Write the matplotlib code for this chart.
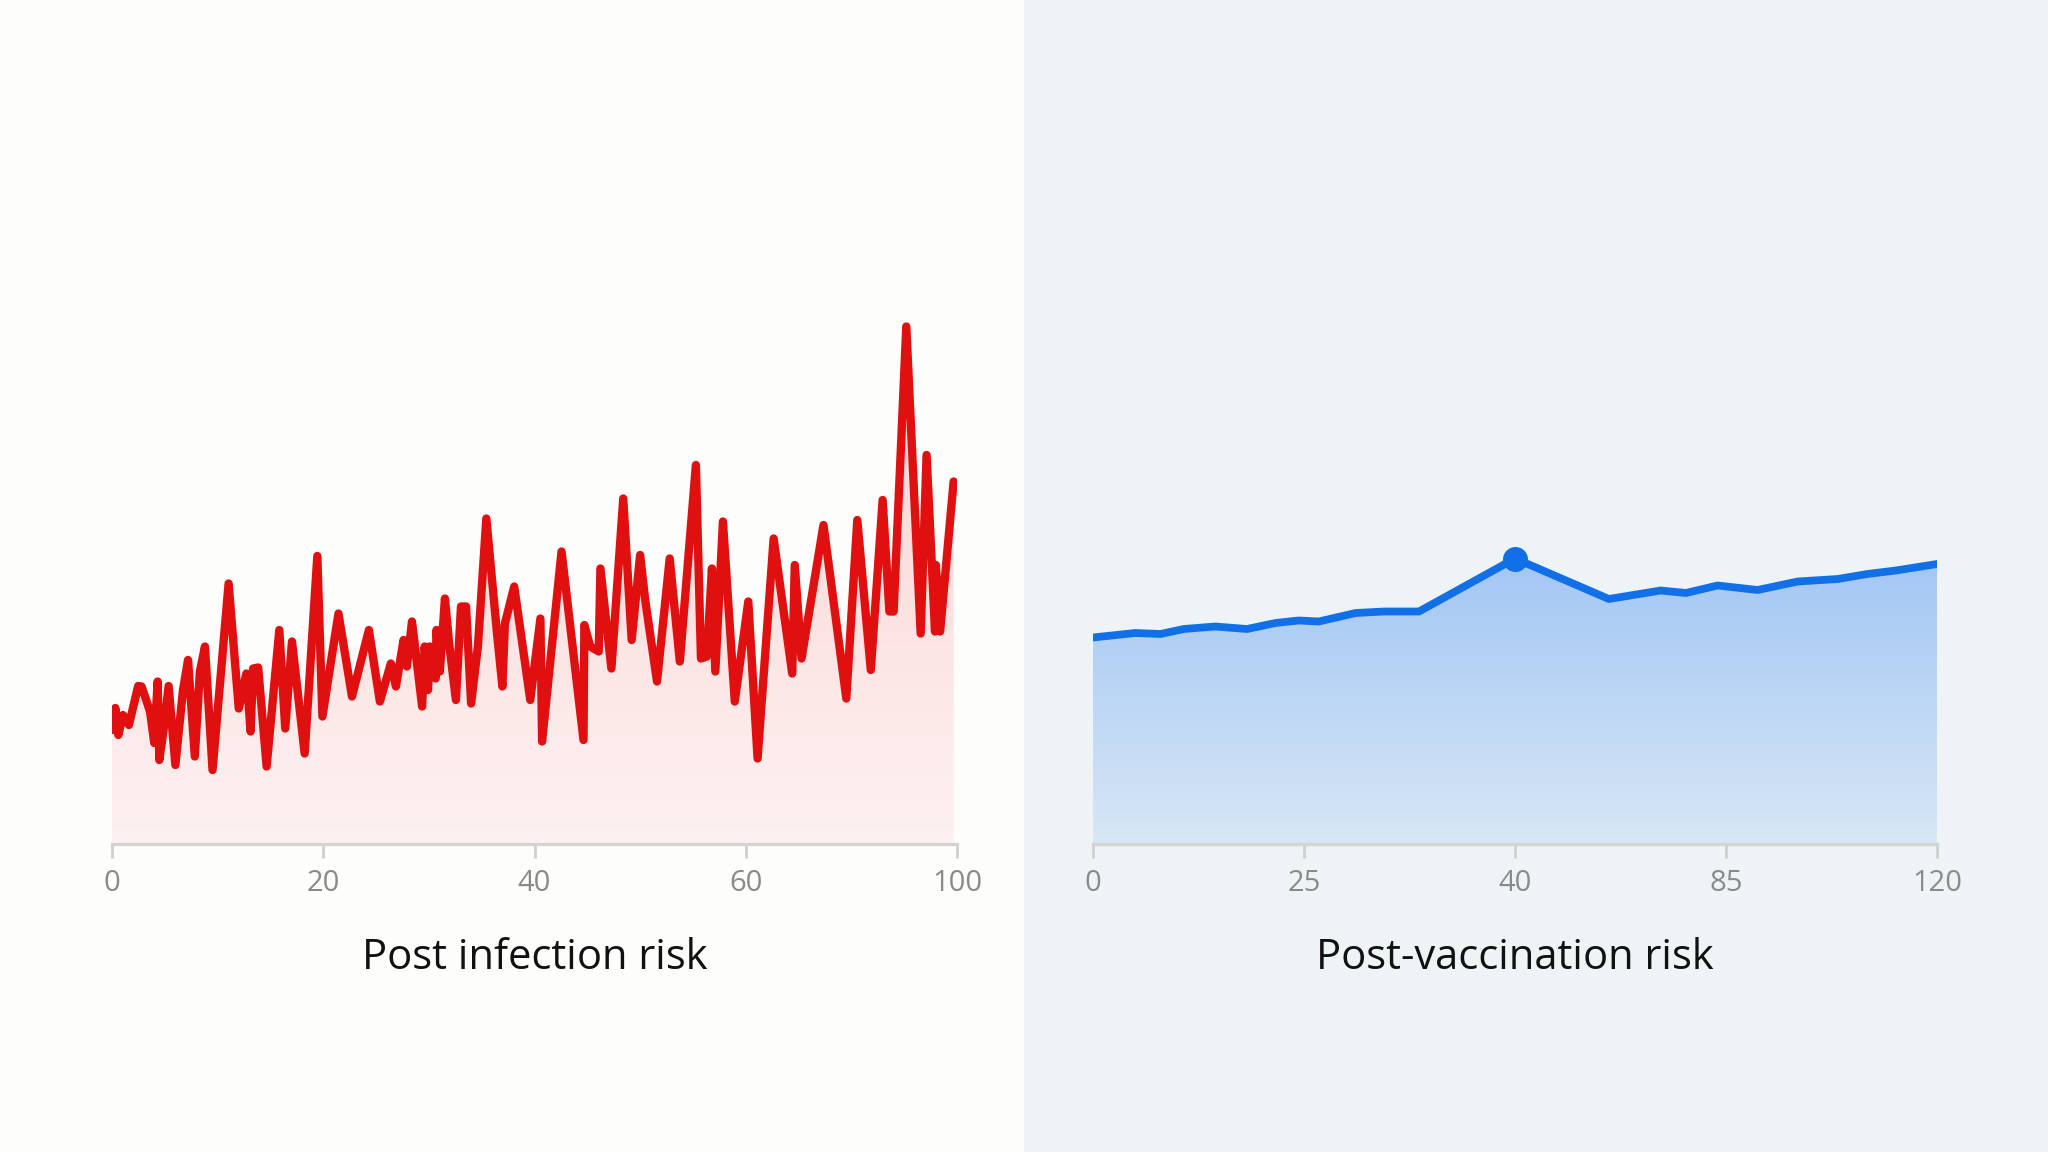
import numpy as np
import matplotlib.pyplot as plt
from matplotlib.patches import Rectangle

# left panel: post infection risk (x 0-100, arbitrary risk units)
inf_x = [0.0, 0.4, 0.75, 1.3, 2.0, 3.1, 3.5, 4.5, 5.0, 5.4, 5.6, 6.1, 6.7, 7.5, 8.4, 9.0, 9.8,
         10.4, 11.0, 11.9, 13.8, 15.0, 15.9, 16.4, 16.7, 17.3, 18.3, 19.8, 20.5, 21.3, 22.8,
         24.3, 24.9, 26.8, 28.4, 30.4, 31.7, 33.0, 33.6, 34.5, 34.9, 35.5, 36.7, 37.0, 37.4,
         37.6, 38.3, 38.4, 38.8, 39.4, 39.9, 40.7, 41.3, 41.9, 42.5, 43.3, 44.3, 45.6, 46.2,
         46.5, 47.6, 49.5, 50.7, 50.9, 53.2, 55.8, 55.9, 56.6, 57.6, 57.8, 59.1, 60.5, 61.5,
         62.5, 63.1, 64.5, 66.0, 67.2, 69.1, 69.7, 70.4, 71.0, 71.4, 72.3, 73.7, 75.3, 76.4,
         78.3, 80.5, 80.8, 81.6, 84.2, 86.9, 88.2, 89.8, 91.2, 92.0, 92.5, 94.0, 95.7, 96.4,
         97.4, 97.5, 98.0, 99.6]
inf_y = [22.8, 27.2, 21.8, 25.8, 23.8, 31.6, 31.5, 26.5, 20.2, 32.5, 16.8, 22.8, 31.6, 15.8,
         30.8, 36.8, 17.5, 34.5, 39.5, 14.8, 52.1, 27.1, 34.1, 22.5, 35.1, 35.3, 15.5, 42.8,
         23.1, 40.5, 18.1, 57.6, 25.5, 46.1, 29.5, 42.8, 28.5, 36.1, 31.5, 40.8, 35.5, 44.5,
         27.5, 39.5, 30.8, 39.5, 33.1, 42.8, 34.5, 49.1, 40.1, 28.8, 47.5, 47.5, 28.1, 39.5,
         65.1, 41.5, 31.5, 44.1, 51.5, 28.8, 45.1, 20.5, 58.5, 20.8, 43.8, 39.5, 38.5, 55.1,
         35.1, 69.1, 40.8, 57.8, 48.8, 32.5, 57.1, 36.5, 75.8, 37.1, 37.5, 55.1, 34.5, 64.5,
         28.5, 48.5, 17.1, 61.1, 34.1, 55.8, 37.1, 63.8, 29.1, 64.8, 34.8, 68.8, 46.5, 46.5,
         103.5, 42.1, 77.8, 42.5, 55.8, 42.5, 72.5]
inf_ticklabels = ["0", "20", "40", "60", "100"]
inf_title = "Post infection risk"

# right panel: post-vaccination risk (x in tick-slot units 0-4)
vac_x = [0, 0.2, 0.32, 0.43, 0.58, 0.73, 0.865, 0.975, 1.07, 1.245, 1.38, 1.545, 2.0,
         2.445, 2.69, 2.81, 2.96, 3.15, 3.34, 3.53, 3.67, 3.805, 4.0]
vac_y = [41.3, 42.2, 42.0, 43.0, 43.5, 43.0, 44.2, 44.7, 44.5, 46.2, 46.5, 46.5, 57.1,
         49.0, 50.7, 50.2, 51.7, 50.8, 52.5, 53.0, 54.0, 54.7, 56.0]
vac_peak = 12
vac_ticklabels = ["0", "25", "40", "85", "120"]
vac_title = "Post-vaccination risk"

plt.rcParams['font.family'] = ['Open Sans', 'DejaVu Sans']

W, H = 2048, 1152
fig = plt.figure(figsize=(10.24, 5.76), dpi=200)
fig.patch.set_facecolor('#fdfdfc')
fig.patches.append(Rectangle((1024 / W, 0), 1 - 1024 / W, 1, transform=fig.transFigure,
                             facecolor='#eef4f6', edgecolor='none', zorder=-5))

base = 1 - 844 / H
top = 1 - 300 / H
ymax = (844 - 300) / 5


def gradient_fill(ax, x, y, xlim, rgb, a_top, a_bot):
    poly = ax.fill_between(x, y, 0, color='none')
    path = poly.get_paths()[0]
    g = np.zeros((256, 1, 4))
    g[:, 0, :3] = rgb
    g[:, 0, 3] = np.linspace(a_bot, a_top, 256)
    img = ax.imshow(g, extent=[xlim[0], xlim[1], 0, max(y)], origin='lower',
                    aspect='auto', zorder=1, interpolation='bilinear')
    img.set_clip_path(path, ax.transData)


def style(ax, xlim, labels, title):
    ax.set_xlim(*xlim)
    ax.set_ylim(0, ymax)
    ax.patch.set_alpha(0)
    for s in ['top', 'right', 'left']:
        ax.spines[s].set_visible(False)
    ax.spines['bottom'].set_color('#d4d4d4')
    ax.spines['bottom'].set_linewidth(1.2)
    ax.set_yticks([])
    ax.set_xticks(np.linspace(xlim[0], xlim[1], len(labels)))
    ax.set_xticklabels(labels)
    ax.tick_params(axis='x', length=5, width=1.0, color='#cfcfcf', pad=4,
                   labelsize=10.5, labelcolor='#8a8a8a')
    ax.set_xlabel(title, fontsize=15, color='#111111', labelpad=14)


ax1 = fig.add_axes([112 / W, base, (957 - 112) / W, top - base])
gradient_fill(ax1, inf_x, inf_y, (0, 100), (0.97, 0.42, 0.42), 0.30, 0.08)
ax1.plot(inf_x, inf_y, color='#e01010', lw=3.0, solid_joinstyle='round',
         solid_capstyle='round', zorder=3)
style(ax1, (0, 100), inf_ticklabels, inf_title)

ax2 = fig.add_axes([1093 / W, base, (1937 - 1093) / W, top - base])
gradient_fill(ax2, vac_x, vac_y, (0, 4), (0.42, 0.65, 0.95), 0.58, 0.17)
ax2.plot(vac_x, vac_y, color='#1170e8', lw=2.8, solid_joinstyle='round',
         solid_capstyle='round', zorder=3)
ax2.plot(vac_x[vac_peak], vac_y[vac_peak], 'o', color='#1170e8', ms=8, zorder=4)
style(ax2, (0, 4), vac_ticklabels, vac_title)

fig.savefig('out.png', dpi=200, facecolor=fig.get_facecolor())
